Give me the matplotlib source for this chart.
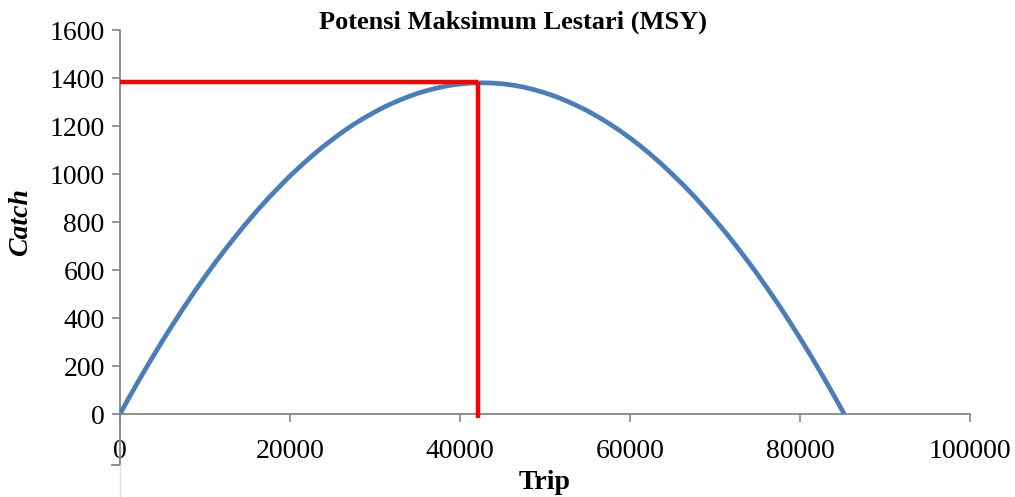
import matplotlib.pyplot as plt
from matplotlib.lines import Line2D

plt.rcParams['font.family'] = ['Liberation Serif', 'DejaVu Serif']

# values (Trip vs Catch)
trip = [0, 1250, 2500, 3750, 5000, 6250, 7500, 8750, 10000, 11250,
        12500, 13750, 15000, 16250, 17500, 18750, 20000, 21250, 22500,
        23750, 25000, 26250, 27500, 28750, 30000, 31250, 32500, 33750,
        35000, 36250, 37500, 38750, 40000, 41250, 42500, 43750, 45000,
        46250, 47500, 48750, 50000, 51250, 52500, 53750, 55000, 56250,
        57500, 58750, 60000, 61250, 62500, 63750, 65000, 66250, 67500,
        68750, 70000, 71250, 72500, 73750, 75000, 76250, 77500, 78750,
        80000, 81250, 82500, 83750, 85200]
catch = [0, 80, 157, 232, 305, 375, 443, 509, 572, 633,
         691, 747, 801, 852, 901, 947, 992, 1033, 1073,
         1110, 1144, 1177, 1207, 1234, 1259, 1282, 1302, 1320,
         1336, 1349, 1360, 1369, 1375, 1379, 1380, 1379, 1376,
         1370, 1362, 1351, 1338, 1323, 1305, 1285, 1263, 1238,
         1211, 1182, 1150, 1116, 1079, 1040, 998, 955, 909,
         860, 809, 756, 700, 642, 582, 519, 454, 386,
         316, 244, 169, 92, 0]

e_msy = 42100
c_msy = 1385
x_ticks = [0, 20000, 40000, 60000, 80000, 100000]
y_ticks = [0, 200, 400, 600, 800, 1000, 1200, 1400, 1600]

fig = plt.figure(figsize=(10.15, 4.97), dpi=100)
ax = fig.add_axes([0.1182, 0.167, 0.8375, 0.7726])

ax.plot(trip, catch, color='#4a7ebb', lw=3.4, solid_capstyle='butt', solid_joinstyle='round', zorder=3)
ax.plot([0, e_msy], [c_msy, c_msy], color='#ff0000', lw=3.2, solid_capstyle='butt', zorder=4, clip_on=False)
ax.plot([e_msy, e_msy], [c_msy, -17], color='#ff0000', lw=3.2, solid_capstyle='butt', zorder=4, clip_on=False)

ax.set_xlim(0, 100000)
ax.set_ylim(0, 1600)
ax.set_xticks(x_ticks)
ax.set_yticks(y_ticks)
ax.tick_params(labelsize=20, colors='#868686', labelcolor='black', length=6, width=1.2)
ax.tick_params(axis='x', pad=12)
ax.tick_params(axis='y', pad=5)

for s in ['top', 'right']:
    ax.spines[s].set_visible(False)
for s in ['left', 'bottom']:
    ax.spines[s].set_color('#868686')
    ax.spines[s].set_linewidth(1.3)

fig.text(513/1015, 1-22/497, 'Potensi Maksimum Lestari (MSY)', fontsize=19,
         fontweight='bold', ha='center', va='center')
ax.set_xlabel('Trip', fontsize=20, fontweight='bold', labelpad=4)
ax.set_ylabel('Catch', fontsize=20, fontweight='bold', style='italic', labelpad=12)

# leftover axis stub below the chart
fig.add_artist(Line2D([120/1015, 120/1015], [1-414/497, 1-465/497], color='#868686', lw=1.3))
fig.add_artist(Line2D([112/1015, 120/1015], [1-465/497, 1-465/497], color='#868686', lw=1.3))
fig.add_artist(Line2D([120/1015, 120/1015], [1-465/497, 0], color='#e0e0e0', lw=1))

fig.savefig('out.png', dpi=100)
